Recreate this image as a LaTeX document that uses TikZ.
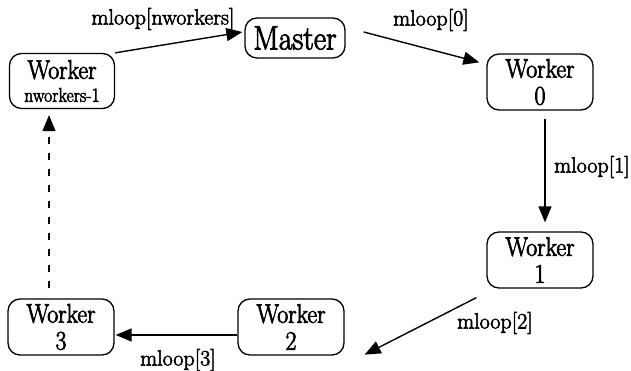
\documentclass[tikz,border=0pt]{standalone}
\usepackage{fontspec}
\setmainfont{Latin Modern Roman}[FakeBold=2.5]
\newfontfamily\condfont{Latin Modern Roman}[FakeStretch=0.88,FakeBold=2.5]
\usetikzlibrary{arrows.meta}
\begin{document}
\begin{tikzpicture}[x=1pt,y=-1pt,
  proc/.style={draw,line width=1.3pt,rounded corners=12pt,align=center,
    minimum width=106pt,minimum height=56pt,inner sep=1pt,
    font=\condfont\fontsize{27}{27}\selectfont},
  msg/.style={-{Triangle[length=16pt,width=13pt]},line width=1.4pt},
  lbl/.style={inner sep=0pt,font=\fontsize{22}{22}\selectfont}]
\useasboundingbox (0,0) rectangle (631,371);

% processes
\node[proc,minimum width=100pt,minimum height=40pt,font=\condfont\fontsize{34}{34}\selectfont] (master) at (295,38) {Master};
\node[proc,minimum width=105pt,minimum height=55pt] (wn) at (62,81) {Worker\\[-4pt]{\fontsize{20}{20}\selectfont nworkers-1}};
\node[proc] (w0) at (540,82) {Worker\\0};
\node[proc] (w1) at (540,260) {Worker\\1};
\node[proc] (w2) at (291,327) {Worker\\2};
\node[proc] (w3) at (61,327) {Worker\\3};

% ring of messages
\draw[msg] (wn.north east) -- ([xshift=-2pt,yshift=6pt]master.west);
\draw[msg] ([xshift=18pt,yshift=6pt]master.east) -- ([xshift=-7pt,yshift=-9pt]w0.north west);
\draw[msg] ([xshift=5pt,yshift=-8pt]w0.south) -- ([xshift=5pt,yshift=9pt]w1.north);
\draw[msg] ([xshift=-10pt,yshift=-9pt]w1.south west) -- ([xshift=20pt,yshift=1pt]w2.south east);
\draw[msg] ([yshift=-8pt]w2.west) -- ([xshift=1pt,yshift=-8pt]w3.east);
\draw[msg,dash pattern=on 7pt off 9pt] ([xshift=-12pt,yshift=10pt]w3.north) -- ([xshift=-13pt,yshift=-6pt]wn.south);

% message labels
\node[lbl] (l4) at (163,19) {mloop[nworkers]};
\node[lbl] (l0) at (431,20) {mloop[0]};
\node[lbl] (l1) at (592,167) {mloop[1]};
\node[lbl] (l2) at (495,323) {mloop[2]};
\node[lbl] (l3) at (178,360) {mloop[3]};
\end{tikzpicture}
\end{document}
